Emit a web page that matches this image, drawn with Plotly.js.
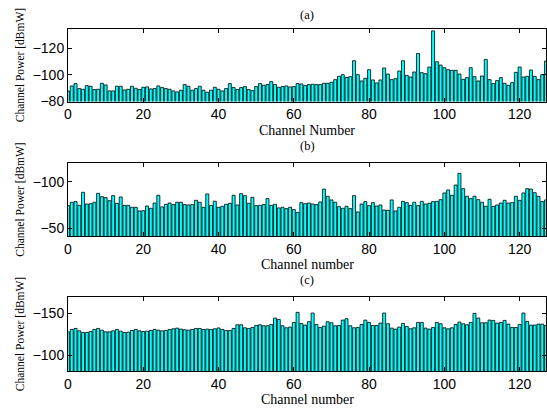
<!DOCTYPE html>
<html>
<head>
<meta charset="utf-8">
<script src="https://cdn.plot.ly/plotly-3.0.1.min.js"></script>
<style>html,body{margin:0;padding:0;background:#fff;}#chart{width:547px;height:409px;}</style>
</head>
<body>
<div id="chart"></div>
<script>
// ---- data ----
var channels = [];
for (var i = 0; i < 128; i++) channels.push(i);

var powerA = [
 -88,-91.75,-93.5,-89.75,-89.25,-92,-91.5,-89,-89.25,-93.75,
 -92.5,-88,-88,-91.5,-91.5,-88.75,-89.25,-91.5,-90,-89,
 -90.75,-91,-89.5,-89.75,-91.75,-90.5,-89.75,-89.25,-88,-87.25,
 -88.5,-92.75,-91.5,-88.5,-89.75,-91.5,-88.5,-87,-88.5,-90.75,
 -89.25,-88,-89.75,-93.5,-90.5,-89,-90.5,-91.25,-89,-88.25,
 -91.25,-93.5,-92.25,-92.75,-95,-92.75,-90.75,-91.25,-91.75,-91,
 -91.25,-93.5,-93.25,-92,-92.75,-93,-92.75,-92.75,-93.75,-93.75,
 -94.5,-96.5,-99,-100.25,-98.25,-98.75,-110.75,-100.25,-95.5,-97.5,
 -104,-96.25,-94,-96.25,-105.25,-100.75,-96.5,-97.25,-103,-110.75,
 -99.75,-98.5,-102.25,-116.25,-101.75,-101,-106,-133.25,-110,-107.5,
 -105.5,-104,-103.5,-103.5,-100.75,-96.75,-98,-105.5,-98.75,-95.5,
 -99.25,-111.75,-96.5,-93.5,-95.75,-98,-93.75,-92.25,-94.25,-102,
 -106,-98.5,-99,-103.75,-99,-96.5,-100.25,-110.5
];

var powerB = [
 -74.3,-77.9,-78.6,-74.6,-88.6,-76,-76.4,-77.9,-87.5,-83.9,
 -82.9,-79.6,-85,-76.8,-83.6,-74.6,-74.6,-72.5,-72.5,-68.6,
 -68.9,-73.9,-71.4,-77.1,-85.4,-72.9,-75.7,-77.1,-75.4,-77.9,
 -77.9,-75.4,-75,-75.4,-80,-77.9,-72.5,-86.8,-74.6,-79,
 -72.5,-73.6,-75.7,-76.8,-85.4,-75,-87.1,-85,-76.8,-83.2,
 -74.3,-74.6,-75.4,-81.8,-74.6,-75.7,-71.8,-72.5,-71.1,-72.5,
 -70,-67.1,-77.5,-76.4,-77.1,-76,-75.4,-78.2,-92.1,-84.3,
 -80.4,-77.9,-73.2,-71.4,-73.6,-71.1,-85,-67.5,-76,-78.6,
 -74.3,-77.5,-73.9,-75,-69.6,-69.3,-80.4,-68.6,-72.5,-78.9,
 -77.5,-74.6,-77.9,-74.3,-78.9,-76,-76.8,-78.6,-78.9,-80.7,
 -87.9,-91.1,-85.4,-96.4,-108.9,-92.5,-84.3,-81.8,-84.3,-80.7,
 -77.9,-73.6,-81.1,-73.6,-75,-77.1,-80,-77.1,-77.5,-84.3,
 -80,-87.9,-92.5,-92.1,-88.2,-84.3,-78.6,-80.4
];

var powerC = [
 -128,-130.8,-132,-129.2,-127.2,-127.2,-128.4,-130.8,-132,-130,
 -128,-128,-129.2,-130.8,-128.8,-127.2,-127.6,-129.6,-130.8,-129.2,
 -128.4,-128.8,-129.6,-130.8,-130,-129.2,-129.6,-130.8,-131.6,-132.4,
 -131.2,-130.4,-130,-130.8,-132,-132,-130.8,-131.2,-130.8,-131.6,
 -132.6,-130.8,-129.6,-129.6,-132,-136.4,-136.4,-132.8,-132,-133.2,
 -135.6,-136.4,-135.2,-135.2,-136.8,-144.4,-142.8,-135.2,-132.8,-133.6,
 -139.2,-151.2,-138,-136,-140,-150.4,-136.8,-133.2,-134.8,-140,
 -138.8,-135.2,-135.6,-142,-143.6,-135.2,-132.8,-133.2,-136.8,-142,
 -139.2,-135.6,-135.6,-138.4,-150.4,-137.6,-132.4,-131.2,-133.6,-138,
 -134.4,-131.6,-132.8,-139.2,-139.2,-132.4,-131.2,-133.2,-139.2,-137.6,
 -132.8,-131.6,-132.8,-136.8,-139.6,-137.6,-136.4,-139.2,-150,-144.4,
 -138.8,-138.8,-142,-141.6,-138.4,-139.2,-141.6,-137.2,-133.2,-133.2,
 -136.8,-150.4,-140.4,-136,-136,-137.2,-137.2,-135.6
];

var xTickVals = [0, 20, 40, 60, 80, 100, 120];
var panelTitles = ['(a)', '(b)', '(c)'];
var xTitles = ['Channel Number', 'Channel number', 'Channel number'];
var yTitle = 'Channel Power [dBmW]';

// ---- styling ----
var sans = 'Liberation Sans, Arial, Helvetica, sans-serif';
var serif = 'Liberation Serif, Times New Roman, serif';

function barTrace(y, xa, ya) {
  return {
    type: 'bar', x: channels, y: y, xaxis: xa, yaxis: ya,
    marker: {color: '#00FFFF', line: {color: '#000000', width: 0.8}},
    hoverinfo: 'skip'
  };
}

var data = [
  barTrace(powerA, 'x', 'y'),
  barTrace(powerB, 'x2', 'y2'),
  barTrace(powerC, 'x3', 'y3')
];

function xAxis(anchor) {
  return {
    anchor: anchor, domain: [0, 1], range: [0, 127],
    tickvals: xTickVals, ticks: 'inside', ticklen: 4, tickcolor: '#000',
    showline: true, linecolor: '#000', linewidth: 1, mirror: 'ticks',
    showgrid: false, zeroline: false,
    tickfont: {family: sans, size: 14, color: '#000'}
  };
}
function yAxis(anchor, domain, range, dtick) {
  return {
    anchor: anchor, domain: domain, range: range, dtick: dtick,
    ticks: 'inside', ticklen: 4, tickcolor: '#000',
    showline: true, linecolor: '#000', linewidth: 1, mirror: 'ticks',
    showgrid: false, zeroline: false,
    tickfont: {family: sans, size: 14, color: '#000'}
  };
}

var H = 342, BOT = 371;
function fy(px) { return (BOT - px) / H; }

var annotations = [];
var titleY = [15, 146, 280];
var xTitleY = [130, 264, 399];
var domainCenters = [(29 + 101.5) / 2, (163.3 + 236) / 2, (297.3 + 371) / 2];
for (var k = 0; k < 3; k++) {
  annotations.push({text: panelTitles[k], xref: 'paper', yref: 'paper', x: 0.5, y: fy(titleY[k]),
    xanchor: 'center', yanchor: 'middle', showarrow: false, font: {family: serif, size: 12.5, color: '#000'}});
  annotations.push({text: xTitles[k], xref: 'paper', yref: 'paper', x: 0.5, y: fy(xTitleY[k]),
    xanchor: 'center', yanchor: 'middle', showarrow: false, font: {family: serif, size: 14, color: '#000'}});
  annotations.push({text: yTitle, xref: 'paper', yref: 'paper', x: 0, xshift: -48, y: fy(domainCenters[k]),
    xanchor: 'center', yanchor: 'middle', textangle: -90, showarrow: false,
    font: {family: serif, size: 11.5, color: '#000'}});
}

var layout = {
  width: 547, height: 409,
  margin: {l: 68, r: 1, t: 29, b: 38, pad: 0},
  paper_bgcolor: '#fff', plot_bgcolor: '#fff',
  showlegend: false, bargap: 0.2,
  xaxis: xAxis('y'),
  xaxis2: xAxis('y2'),
  xaxis3: xAxis('y3'),
  yaxis: yAxis('x', [fy(101.5), 1], [-80, -134.7], 20),
  yaxis2: yAxis('x2', [fy(236), fy(163.3)], [-41.7, -119.7], 50),
  yaxis3: yAxis('x3', [0, fy(297.3)], [-81.2, -169.2], 50),
  annotations: annotations
};

Plotly.newPlot('chart', data, layout, {displayModeBar: false, staticPlot: true});
</script>
</body>
</html>
